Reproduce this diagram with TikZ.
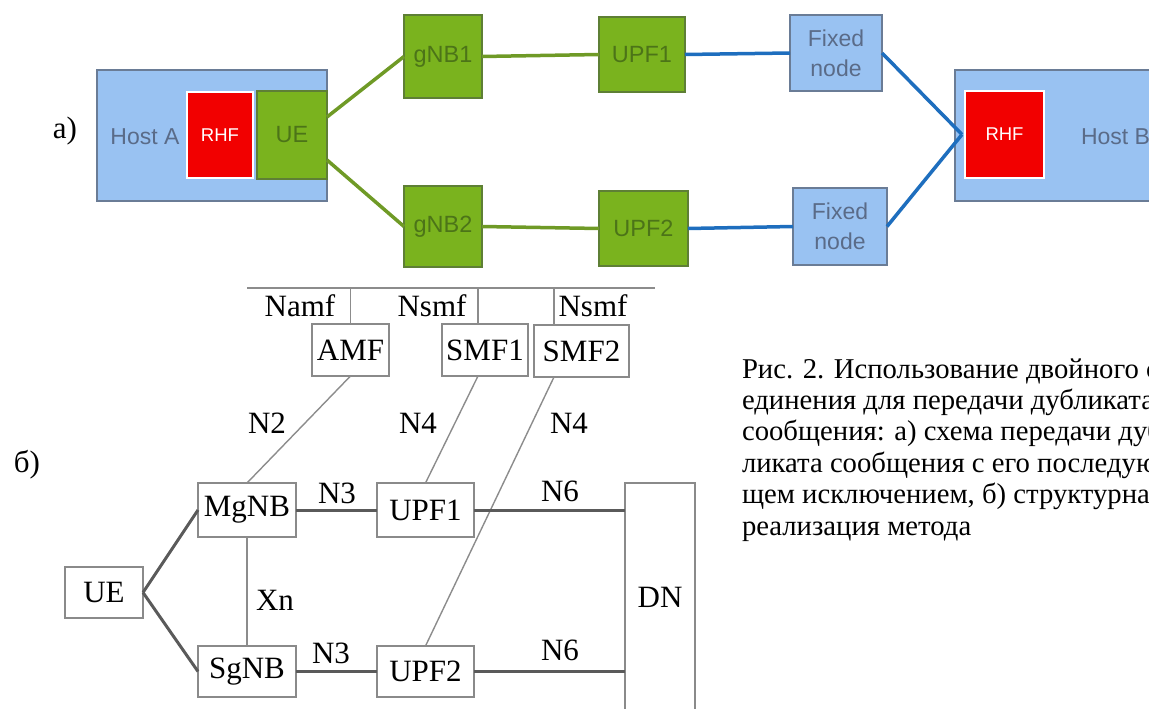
\documentclass[tikz,border=0pt]{standalone}
\usepackage{fontspec}
\setmainfont{Liberation Serif}
\newfontfamily\diagsans{Liberation Sans}
\usetikzlibrary{calc}

\definecolor{hostblue}{HTML}{99C2F2}
\definecolor{hostedge}{HTML}{6A7C96}
\definecolor{hosttext}{HTML}{5A6B88}
\definecolor{rhfred}{HTML}{F20000}
\definecolor{gfill}{HTML}{7AB31E}
\definecolor{gedge}{HTML}{5E7F35}
\definecolor{gtext}{HTML}{4C7418}
\definecolor{gline}{HTML}{6F9A26}
\definecolor{bline}{HTML}{1E6EBE}
\definecolor{boxgray}{HTML}{8A8A8A}
\definecolor{linkdark}{HTML}{5A5A5A}
\definecolor{linklight}{HTML}{8C8C8C}

\tikzset{
  every node/.style={inner sep=0pt, outer sep=0pt},
  hostbox/.style={rectangle, draw=hostedge, line width=1.5, fill=hostblue},
  hostlabel/.style={font=\diagsans\fontsize{23}{27}\selectfont, text=hosttext},
  rhfbox/.style={rectangle, draw=white, line width=2.5, fill=rhfred,
    font=\diagsans\fontsize{18.5}{22}\selectfont, text=white},
  greenbox/.style={rectangle, draw=gedge, line width=1.5, fill=gfill,
    font=\diagsans\fontsize{23.5}{27}\selectfont, text=gtext},
  fixedbox/.style={rectangle, draw=hostedge, line width=1.5, fill=hostblue, align=center,
    font=\diagsans\fontsize{23}{30}\selectfont, text=hosttext},
  greenlink/.style={draw=gline, line width=3.5},
  bluelink/.style={draw=bline, line width=3.5},
  nfbox/.style={rectangle, draw=boxgray, line width=2, fill=white,
    font=\fontsize{31}{36}\selectfont},
  busline/.style={draw=linklight, line width=2},
  thinlink/.style={draw=linklight, line width=1.4},
  thicklink/.style={draw=linkdark, line width=3},
  iflabel/.style={anchor=base, font=\fontsize{31}{36}\selectfont},
  captionline/.style={anchor=base west, font=\fontsize{28.7}{31.4}\selectfont},
}

\begin{document}
\begin{tikzpicture}[x=1pt,y=-1pt]
\useasboundingbox (0,0) rectangle (1149,709);
\clip (0,0) rectangle (1149,709);

% ---------- a) duplicate transmission scheme ----------
\node[iflabel] (lblA) at (65,138) {a)};

\node[hostbox, minimum width=230, minimum height=131] (hostA) at (212,135.5) {};
\node[hostlabel] (hostAtxt) at (145,137) {Host A};
\node[rhfbox, minimum width=66, minimum height=86] (rhfA) at (220,135) {RHF};
\node[greenbox, minimum width=70, minimum height=88] (ueA) at (292,135) {UE};

\node[greenbox, minimum width=78, minimum height=83] (gnb1) at (443,56.5) {gNB1};
\node[greenbox, minimum width=78, minimum height=81] (gnb2) at (443,226.5) {gNB2};
\node[greenbox, minimum width=86, minimum height=75] (upf1a) at (642,54.5) {UPF1};
\node[greenbox, minimum width=89, minimum height=75] (upf2a) at (643.5,228.5) {UPF2};
\node[fixedbox, minimum width=92, minimum height=76] (fix1) at (836,53) {Fixed\\node};
\node[fixedbox, minimum width=94, minimum height=77] (fix2) at (840,226.5) {Fixed\\node};

\node[hostbox, minimum width=245, minimum height=131] (hostB) at (1077.5,135.5) {};
\node[rhfbox, minimum width=79, minimum height=87] (rhfB) at (1004.5,134.5) {RHF};
\node[hostlabel, anchor=west] (hostBtxt) at (1081,137) {Host B};
\coordinate (hubB) at ($(rhfB.west)+(-3,0)$);

\draw[greenlink] ($(ueA.east)+(0,-18)$) -- (gnb1.west);
\draw[greenlink] ($(ueA.east)+(0,25)$) -- (gnb2.west);
\draw[greenlink] (gnb1.east) -- (upf1a.west);
\draw[greenlink] (gnb2.east) -- (upf2a.west);
\draw[bluelink] (upf1a.east) -- (fix1.west);
\draw[bluelink] (upf2a.east) -- (fix2.west);
\draw[bluelink] (fix1.east) -- (hubB);
\draw[bluelink] (fix2.east) -- (hubB);

% ---------- б) structural implementation ----------
\node[iflabel] (lblB) at (27,472) {б)};

\coordinate (busL) at (247,288);
\coordinate (busR) at (655,288);
\coordinate (t1) at (350.5,288);
\coordinate (t2) at (478,288);
\coordinate (t3) at (554,288);
\draw[busline] (busL) -- (busR);

\node[nfbox, minimum width=77, minimum height=52] (amf) at (350.5,350) {AMF};
\node[nfbox, minimum width=86, minimum height=52] (smf1) at (485,350) {SMF1};
\node[nfbox, minimum width=95, minimum height=52] (smf2) at (581.5,351) {SMF2};

\draw[thinlink] (t1) -- (amf.north);
\draw[thinlink] (t2) -- (t2 |- smf1.north);
\draw[thinlink] (t3) -- (t3 |- smf2.north);

\node[iflabel] (namf) at (300,316) {Namf};
\node[iflabel] (nsmf1) at (432,316) {Nsmf};
\node[iflabel] (nsmf2) at (593,316) {Nsmf};

\node[nfbox, minimum width=98, minimum height=54] (mgnb) at (247,510) {MgNB};
\node[nfbox, minimum width=97, minimum height=54] (upf1b) at (425.5,510) {UPF1};
\node[nfbox, minimum width=78, minimum height=51] (ueb) at (104,592.5) {UE};
\node[nfbox, minimum width=98, minimum height=51] (sgnb) at (247,671.5) {SgNB};
\node[nfbox, minimum width=97, minimum height=51] (upf2b) at (425.5,671.5) {UPF2};
\node[nfbox, minimum width=70, minimum height=228] (dn) at (660,597) {DN};

\draw[thinlink] (amf.south) -- (mgnb.north);
\draw[thinlink] (t2 |- smf1.south) -- (upf1b.north);
\draw[thinlink] (t3 |- smf2.south) -- (upf2b.north);
\draw[thinlink] (mgnb.south) -- (sgnb.north);

\draw[thicklink] (ueb.east) -- (mgnb.west);
\draw[thicklink] (ueb.east) -- (sgnb.west);
\draw[thicklink] (mgnb.east) -- (upf1b.west);
\draw[thicklink] (sgnb.east) -- (upf2b.west);
\draw[thicklink] (upf1b.east) -- (upf1b.east -| dn.west);
\draw[thicklink] (upf2b.east) -- (upf2b.east -| dn.west);

\node[iflabel] (n2) at (267,433) {N2};
\node[iflabel] (n4a) at (418,433) {N4};
\node[iflabel] (n4b) at (569,433) {N4};
\node[iflabel] (n3a) at (337,503) {N3};
\node[iflabel] (n3b) at (331,663) {N3};
\node[iflabel] (xn) at (275,610) {Xn};
\node[iflabel] (n6a) at (560,501) {N6};
\node[iflabel] (n6b) at (560,660) {N6};

% ---------- figure caption ----------
\node[captionline] (cap1) at (742,378) {Рис. 2. Использование двойного со-};
\node[captionline] (cap2) at (742,409.4) {единения для передачи дубликата};
\node[captionline] (cap3) at (742,440.8) {сообщения: а) схема передачи дуб-};
\node[captionline] (cap4) at (742,472.2) {ликата сообщения с его последую-};
\node[captionline] (cap5) at (742,503.6) {щем исключением, б) структурная};
\node[captionline] (cap6) at (742,535) {реализация метода};
\end{tikzpicture}
\end{document}
